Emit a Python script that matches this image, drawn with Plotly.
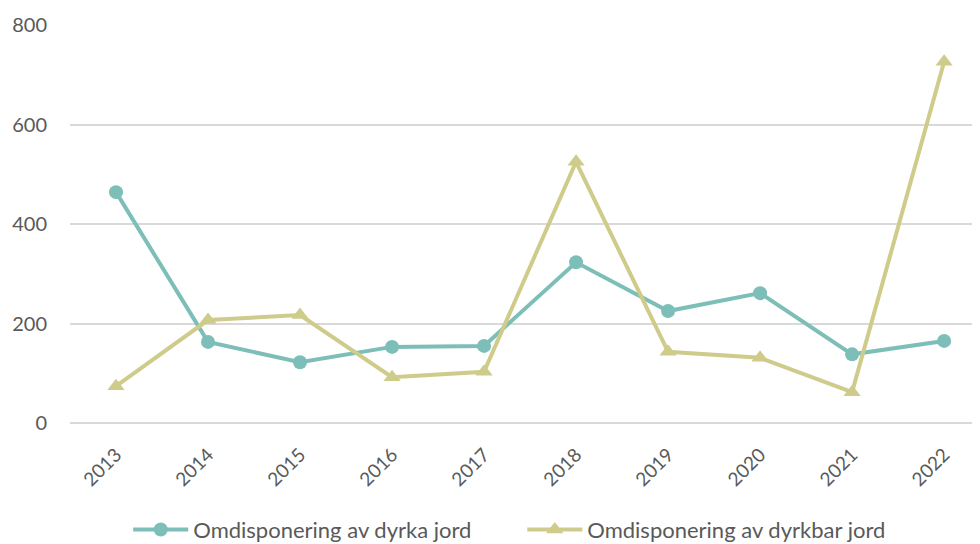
import plotly.graph_objects as go

years = ["2013", "2014", "2015", "2016", "2017", "2018", "2019", "2020", "2021", "2022"]
dyrka = [464, 163, 122, 153, 155, 323, 225, 261, 138, 165]
dyrkbar = [74, 207, 217, 92, 103, 525, 143, 131, 62, 726]
y_ticks = [0, 200, 400, 600, 800]

teal = "#7dbfb8"
khaki = "#cfcb8b"

fig = go.Figure()
fig.add_trace(go.Scatter(
    x=years, y=dyrka, name="Omdisponering av dyrka jord",
    mode="lines+markers",
    line=dict(color=teal, width=4),
    marker=dict(symbol="circle", size=14, color=teal),
    legend="legend",
))
fig.add_trace(go.Scatter(
    x=years, y=dyrkbar, name="Omdisponering av dyrkbar jord",
    mode="lines+markers",
    line=dict(color=khaki, width=4),
    marker=dict(symbol="triangle-up", size=15, color=khaki),
    legend="legend2",
))

leg_common = dict(
    orientation="h", yanchor="middle", y=-0.268,
    font=dict(size=22, color="#595959"),
    itemwidth=55, bgcolor="rgba(0,0,0,0)",
)

# the page body adds an 8px offset; margins compensate for it
fig.update_layout(
    width=980, height=544,
    margin=dict(l=62, r=8, t=17, b=129, autoexpand=False),
    paper_bgcolor="white", plot_bgcolor="white",
    font=dict(family="Lato, Carlito, Liberation Sans, sans-serif", color="#595959", size=18),
    showlegend=True,
    legend=dict(x=0.064, xanchor="left", **leg_common),
    legend2=dict(x=0.497, xanchor="left", **leg_common),
    xaxis=dict(
        type="category", range=[-0.5, 9.39],
        tickangle=-45, tickfont=dict(size=19), ticklabelstandoff=16,
        showgrid=False, showline=False, ticks="", automargin=False,
    ),
    yaxis=dict(
        range=[0, 800], tickvals=y_ticks, tickfont=dict(size=20),
        gridcolor="#d9d9d9", gridwidth=2,
        zeroline=True, zerolinecolor="#d9d9d9", zerolinewidth=2,
        showline=False, ticks="", ticklabelstandoff=22, automargin=False,
    ),
)

fig.write_html("out.html")
